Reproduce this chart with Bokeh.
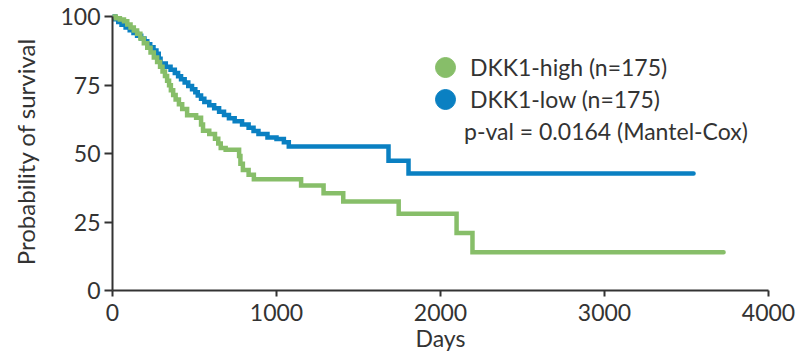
from bokeh.plotting import figure
from bokeh.models import (ColumnDataSource, Range1d, FixedTicker, Legend, LegendItem)
from bokeh.embed import file_html
from bokeh.resources import INLINE

# ---- data ----
high_days = [0, 20, 45, 70, 90, 110, 130, 150, 170, 191, 212, 232, 252, 272, 290, 305,
             320, 333, 345, 356, 370, 385, 405, 425, 455, 510, 540, 552, 590, 625, 645,
             660, 690, 772, 780, 795, 830, 862, 1150, 1287, 1407, 1745, 2098, 2195, 3726]
high_surv = [100, 99.4, 98.9, 98.3, 97.1, 96.0, 94.9, 93.7, 92.0, 90.3, 88.6, 86.9, 85.1,
             83.4, 81.7, 80.0, 78.3, 76.6, 74.9, 73.1, 71.4, 69.7, 68.0, 66.3, 64.0, 63.1,
             60.6, 58.3, 57.1, 55.4, 53.7, 52.0, 51.4, 49.1, 46.3, 44.0, 42.3, 40.6, 38.3,
             35.5, 32.5, 28.0, 21.0, 14.0, 14.0]

low_days = [0, 15, 35, 55, 80, 105, 128, 150, 175, 195, 212, 230, 250, 268, 282, 293,
            325, 354, 380, 400, 418, 440, 462, 485, 505, 520, 540, 560, 590, 620, 650,
            680, 710, 745, 790, 830, 860, 890, 945, 1000, 1045, 1075, 1683, 1805, 3543]
low_surv = [100, 99.0, 98.0, 97.0, 96.0, 95.0, 94.0, 93.0, 92.0, 91.0, 89.9, 88.8, 87.6,
            86.4, 84.6, 82.9, 81.7, 80.6, 79.4, 78.2, 77.1, 75.9, 74.7, 73.5, 72.4, 71.2,
            70.0, 68.8, 67.6, 66.5, 65.3, 64.1, 62.9, 61.8, 60.6, 59.4, 58.2, 57.1, 55.9,
            55.3, 54.1, 52.6, 47.4, 42.7, 42.7]

x_ticks = [0, 1000, 2000, 3000, 4000]
y_ticks = [0, 25, 50, 75, 100]

high_label = "DKK1-high (n=175)"
low_label = "DKK1-low (n=175)"
pval_label = "p-val = 0.0164 (Mantel-Cox)"

GREEN = "#87BE69"
BLUE = "#0A80C2"
TXT = "#333333"
FONT = "Lato"

p = figure(width=799, height=357, output_backend="svg", toolbar_location=None,
           x_range=Range1d(0, 4000), y_range=Range1d(0, 101.5),
           min_border_left=112, min_border_right=31, min_border_top=12,
           min_border_bottom=67)
p.outline_line_color = None
p.grid.visible = False
p.background_fill_color = "white"

low_src = ColumnDataSource(dict(x=low_days, y=low_surv))
high_src = ColumnDataSource(dict(x=high_days, y=high_surv))
p.step("x", "y", source=low_src, mode="after", line_color=BLUE, line_width=4.5,
       line_join="miter", line_cap="round")
p.step("x", "y", source=high_src, mode="after", line_color=GREEN, line_width=4.5,
       line_join="miter", line_cap="round")

# legend marker renderers (a single NaN point, so nothing is drawn in the plot)
nan = float("nan")
r_hi = p.scatter("x", "y", source=ColumnDataSource(dict(x=[nan], y=[nan])), size=20,
                 fill_color=GREEN, line_color=GREEN)
r_lo = p.scatter("x", "y", source=ColumnDataSource(dict(x=[nan], y=[nan])), size=20,
                 fill_color=BLUE, line_color=BLUE)
r_pv = p.scatter("x", "y", source=ColumnDataSource(dict(x=[nan], y=[nan])), size=20,
                 fill_alpha=0, line_alpha=0)


def make_legend(label, renderer, loc):
    return Legend(items=[LegendItem(label=label, renderers=[renderer])],
                  location=loc, orientation="vertical",
                  glyph_width=50, glyph_height=50, spacing=0, label_standoff=0,
                  padding=0, margin=0, border_line_alpha=0, background_fill_alpha=0,
                  label_text_font=FONT, label_text_font_size="23px",
                  label_text_color=TXT)


p.add_layout(make_legend(high_label, r_hi, (308, 198)))
p.add_layout(make_legend(low_label, r_lo, (308, 166)))
p.add_layout(make_legend(pval_label, r_pv, (302, 134)))

for ax in (p.xaxis[0], p.yaxis[0]):
    ax.axis_line_color = TXT
    ax.axis_line_width = 2
    ax.major_tick_line_color = TXT
    ax.major_tick_line_width = 2
    ax.major_tick_in = 0
    ax.minor_tick_line_color = None
    ax.major_label_text_font = FONT
    ax.major_label_text_font_size = "23px"
    ax.major_label_text_color = TXT
    ax.axis_label_text_font = FONT
    ax.axis_label_text_font_style = "normal"
    ax.axis_label_text_color = TXT

p.xaxis.major_tick_out = 6
p.yaxis.major_tick_out = 8
p.xaxis.ticker = FixedTicker(ticks=x_ticks)
p.yaxis.ticker = FixedTicker(ticks=y_ticks)
p.xaxis.bounds = (0, 4000)
p.yaxis.bounds = (0, 100)
p.xaxis.axis_label = "Days"
p.yaxis.axis_label = "Probability of survival"
p.xaxis.axis_label_text_font_size = "23px"
p.yaxis.axis_label_text_font_size = "24px"
p.xaxis.major_label_standoff = 7
p.xaxis.axis_label_standoff = 0
p.yaxis.major_label_standoff = 4
p.yaxis.axis_label_standoff = 17

open("out.html", "w").write(file_html(p, INLINE))
